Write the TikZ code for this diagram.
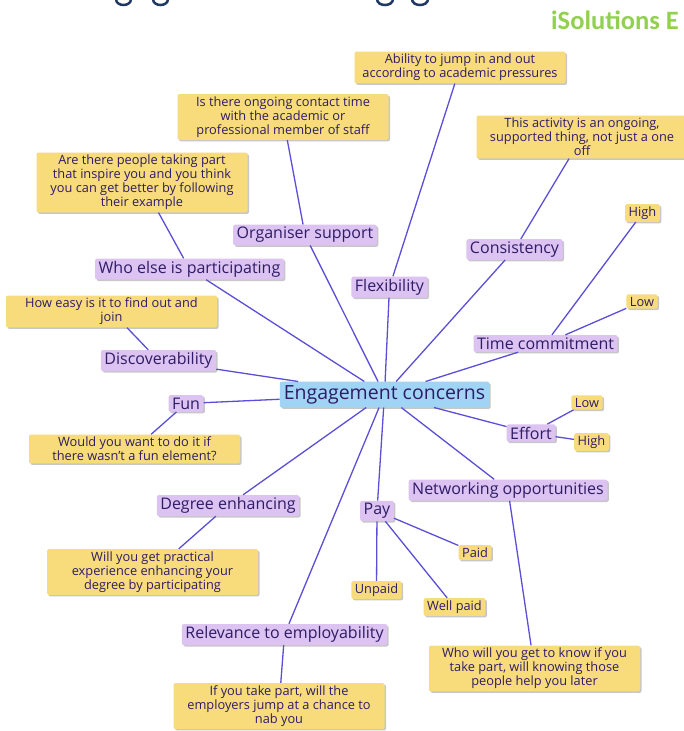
\documentclass[tikz,border=0pt]{standalone}
\usepackage{fontspec}
\setmainfont{Open Sans}
\newfontfamily\calfont{Carlito}
\usetikzlibrary{shadows}
\definecolor{linec}{HTML}{5B4FD8}
\definecolor{txtc}{HTML}{2E1C66}
\definecolor{bluec}{HTML}{9FD4F4}
\definecolor{purplec}{HTML}{DCC3F1}
\definecolor{yellowc}{HTML}{F8DC7C}
\definecolor{greenc}{HTML}{92D050}
\definecolor{titlec}{HTML}{1F3864}
\tikzset{
  box/.style={rounded corners=2pt, text=txtc,
    drop shadow={shadow xshift=1.5pt, shadow yshift=-1.5pt, fill=black, opacity=0.22}},
  mainbox/.style={box, fill=bluec, font=\fontsize{19.5}{22}\selectfont, inner xsep=4pt, inner ysep=3.5pt},
  topic/.style={box, fill=purplec, font=\fontsize{16}{18}\selectfont, inner xsep=3.5pt, inner ysep=2.5pt},
  note/.style={box, fill=yellowc, font=\fontsize{12.8}{14}\selectfont, align=center, inner xsep=3.5pt, inner ysep=2.5pt},
  wide/.style={note, minimum width=211pt},
  conn/.style={draw=linec, line width=1.3pt},
  desc/.style={draw=titlec, line width=2.5pt}
}
\begin{document}
\begin{tikzpicture}[x=1pt,y=-1pt]
\useasboundingbox (0,0) rectangle (684,731);
\fill[white] (0,0) rectangle (684,731);

% cropped title descenders
\coordinate (g1a) at (116,-1); \coordinate (g1b) at (131,-1);
\coordinate (g2a) at (153,-1); \coordinate (g2b) at (168,-1);
\coordinate (g3a) at (377,-1); \coordinate (g3b) at (393,-1);
\coordinate (g4a) at (412,-1); \coordinate (g4b) at (428,-1);
\draw[desc] (g1a) .. controls (116,7) and (131,7) .. (g1b);
\draw[desc] (g2a) .. controls (153,7) and (168,7) .. (g2b);
\draw[desc] (g3a) .. controls (377,7) and (393,7) .. (g3b);
\draw[desc] (g4a) .. controls (412,7) and (428,7) .. (g4b);

\node[anchor=base west, inner sep=0pt, text=greenc, font=\calfont\bfseries\fontsize{26.5}{28}\selectfont] (brand) at (551,29) {iSolutions E};

% central node and topics
\node[mainbox] (main) at (384.5,394.5) {Engagement concerns};
\node[topic] (org) at (305,235) {Organiser support};
\node[topic] (who) at (189.5,269) {Who else is participating};
\node[topic] (flex) at (389.5,287) {Flexibility};
\node[topic] (cons) at (514.5,249.5) {Consistency};
\node[topic] (time) at (545.5,343.5) {Time commitment};
\node[topic] (disc) at (158.5,360.5) {Discoverability};
\node[topic] (fun) at (186,403.5) {Fun};
\node[topic] (effort) at (531,433) {Effort};
\node[topic] (net) at (508,490) {Networking opportunities};
\node[topic] (pay) at (377,511) {Pay};
\node[topic] (deg) at (228,505.5) {Degree enhancing};
\node[topic] (rel) at (284.5,634.5) {Relevance to employability};

% notes
\node[wide] (nflex) at (460,67.5) {Ability to jump in and out\\according to academic pressures};
\node[wide] (norg) at (283,117) {Is there ongoing contact time\\with the academic or\\professional member of staff};
\node[wide] (nwho) at (142,182.5) {Are there people taking part\\that inspire you and you think\\you can get better by following\\their example};
\node[wide] (ncons) at (582,137) {This activity is an ongoing,\\supported thing, not just a one\\off};
\node[note] (thigh) at (642.5,213) {High};
\node[note] (tlow) at (642,301.5) {Low};
\node[wide] (ndisc) at (111.5,311.5) {How easy is it to find out and\\join};
\node[wide] (nfun) at (134.5,449) {Would you want to do it if\\there wasn't a fun element?};
\node[note] (elow) at (587,402.5) {Low};
\node[note] (ehigh) at (591.5,442) {High};
\node[note] (paid) at (475,552.5) {Paid};
\node[note] (unpaid) at (376.5,590) {Unpaid};
\node[note] (wellpaid) at (454.5,607) {Well paid};
\node[wide] (nnet) at (534.5,668.5) {Who will you get to know if you\\take part, will knowing those\\people help you later};
\node[wide] (ndeg) at (152.5,572) {Will you get practical\\experience enhancing your\\degree by participating};
\node[wide] (nrel) at (279,706) {If you take part, will the\\employers jump at a chance to\\nab you};

% connectors
\foreach \t in {org,who,flex,cons,time,disc,fun,effort,net,pay,deg,rel}
  \draw[conn] (main) -- (\t);
\draw[conn] (flex) -- (nflex);
\draw[conn] (org) -- (norg);
\draw[conn] (who) -- (nwho);
\draw[conn] (cons) -- (ncons);
\draw[conn] (time) -- (thigh);
\draw[conn] (time) -- (tlow);
\draw[conn] (disc) -- (ndisc);
\draw[conn] (fun) -- (nfun);
\draw[conn] (effort) -- (elow);
\draw[conn] (effort) -- (ehigh);
\draw[conn] (pay) -- (paid);
\draw[conn] (pay) -- (unpaid);
\draw[conn] (pay) -- (wellpaid);
\draw[conn] (net) -- (nnet);
\draw[conn] (deg) -- (ndeg);
\draw[conn] (rel) -- (nrel);
\end{tikzpicture}
\end{document}
